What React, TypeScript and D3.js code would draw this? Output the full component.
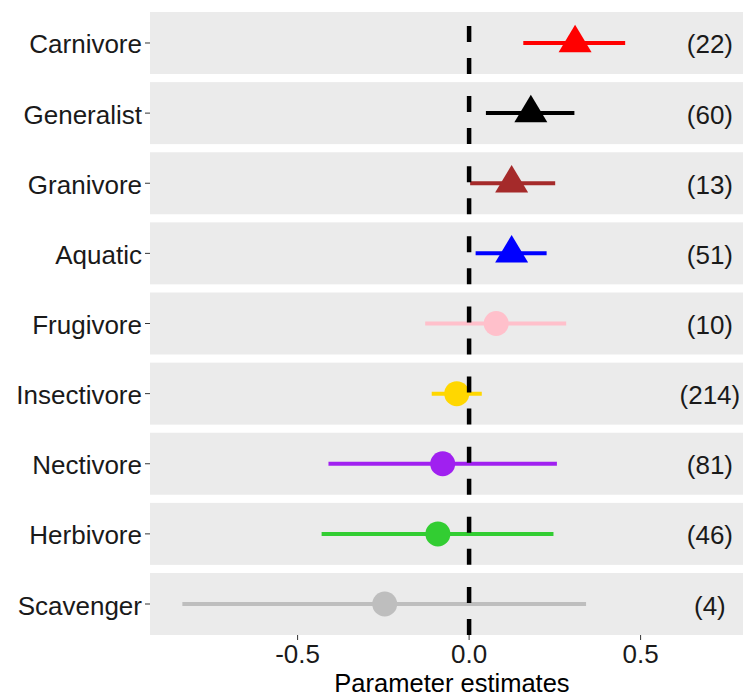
import React from "react";
import * as d3 from "d3";

// Diet guilds, top to bottom
const categories = [
  "Carnivore",
  "Generalist",
  "Granivore",
  "Aquatic",
  "Frugivore",
  "Insectivore",
  "Nectivore",
  "Herbivore",
  "Scavenger",
];
// Point estimates and interval limits
const estimates = [0.309, 0.18, 0.124, 0.124, 0.079, -0.036, -0.077, -0.091, -0.246];
const lower = [0.158, 0.049, 0.003, 0.019, -0.128, -0.109, -0.41, -0.43, -0.836];
const upper = [0.455, 0.307, 0.251, 0.226, 0.283, 0.037, 0.256, 0.246, 0.341];
// Sample sizes shown at the right of each row
const counts = [22, 60, 13, 51, 10, 214, 81, 46, 4];
const significant = [true, true, true, true, false, false, false, false, false];
const colors = [
  "#FF0000",
  "#000000",
  "#A52A2A",
  "#0000FF",
  "#FFC0CB",
  "#FFD700",
  "#A020F0",
  "#32CD32",
  "#BEBEBE",
];
const xTicks = [-0.5, 0, 0.5];
const countX = 0.702;
const xTitle = "Parameter estimates";

const W = 743;
const H = 697;
const panelLeft = 150;
const panelRight = 760;
const FONT = "'Liberation Sans', Arial, Helvetica, sans-serif";

// Tick labels with a plain hyphen for the minus sign
const fmt = (v: number) => d3.format(".1f")(v).replace("\u2212", "-");

export default function App() {
  const x = d3.scaleLinear().domain([-0.5, 0.5]).range([297.6, 640.6]);
  const y = d3
    .scaleBand<string>()
    .domain(categories)
    .range([12, 635])
    .paddingInner(0.1159);
  const bw = y.bandwidth();
  const panelBottom = 635;

  const triH = 27.5;
  const triW = 33;
  const tri = `M0,${(-2 / 3) * triH}L${triW / 2},${triH / 3}L${-triW / 2},${triH / 3}Z`;

  return (
    <svg
      width={W}
      height={H}
      style={{ position: "absolute", left: 0, top: 0, background: "#fff" }}
      fontFamily={FONT}
    >
      {categories.map((c, i) => {
        const top = y(c)!;
        const cy = top + bw / 2;
        return (
          <g key={c}>
            <rect x={panelLeft} y={top} width={panelRight - panelLeft} height={bw} fill="#EBEBEB" />
            <line x1={x(lower[i])} x2={x(upper[i])} y1={cy} y2={cy} stroke={colors[i]} strokeWidth={4} />
            {significant[i] ? (
              <path d={tri} transform={`translate(${x(estimates[i])},${cy})`} fill={colors[i]} />
            ) : (
              <circle cx={x(estimates[i])} cy={cy} r={12.5} fill={colors[i]} />
            )}
            <line
              x1={x(0)}
              x2={x(0)}
              y1={top + bw}
              y2={top}
              stroke="#000"
              strokeWidth={4.5}
              strokeDasharray="16 16"
            />
            <text
              x={x(countX)}
              y={cy + 10.5}
              textAnchor="middle"
              fontSize={26}
              fill="#1a1a1a"
            >
              ({counts[i]})
            </text>
            <line x1={panelLeft - 5} x2={panelLeft} y1={cy} y2={cy} stroke="#333" strokeWidth={1} />
            <text x={142} y={cy + 10.5} textAnchor="end" fontSize={26} fill="#1a1a1a">
              {c}
            </text>
          </g>
        );
      })}
      {xTicks.map((t) => (
        <g key={t}>
          <line x1={x(t)} x2={x(t)} y1={panelBottom} y2={panelBottom + 5} stroke="#333" strokeWidth={1} />
          <text x={x(t)} y={662.5} textAnchor="middle" fontSize={26} fill="#1a1a1a">
            {fmt(t)}
          </text>
        </g>
      ))}
      <text x={(panelLeft + panelRight) / 2 - 3} y={691.5} textAnchor="middle" fontSize={25.5} fill="#000">
        {xTitle}
      </text>
    </svg>
  );
}
